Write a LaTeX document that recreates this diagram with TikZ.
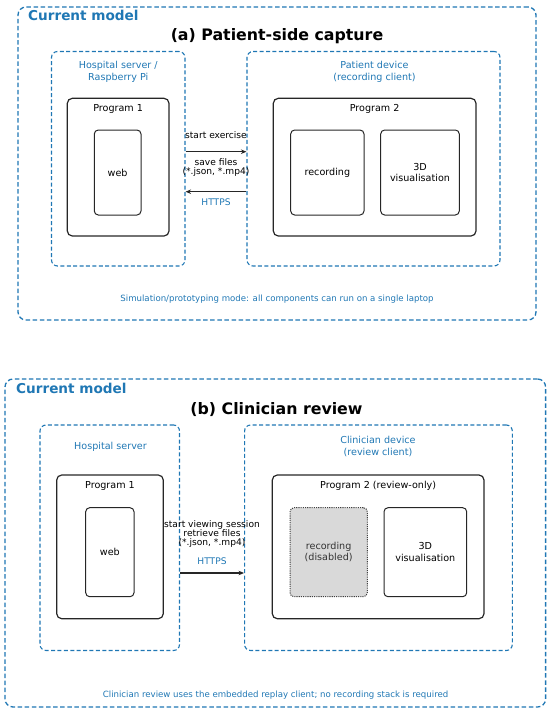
\documentclass[tikz,border=0pt]{standalone}
\usepackage{fontspec}
\setmainfont{DejaVu Sans}
\usetikzlibrary{arrows.meta}
\definecolor{mblue}{HTML}{1F77B4}
\tikzset{
  region/.style={draw=mblue, line width=1.3pt, dash pattern=on 4.5pt off 2.6pt, rounded corners=8pt, inner sep=0pt},
  hostbox/.style={draw=mblue, line width=1.1pt, dash pattern=on 4pt off 2.4pt, rounded corners=6pt, inner sep=0pt},
  progbox/.style={draw=black!85, line width=1.2pt, rounded corners=5pt, inner sep=0pt},
  compbox/.style={draw=black!85, line width=1pt, rounded corners=4pt, inner sep=0pt, align=center, font=\fontsize{9.6}{11.5}\selectfont},
  offbox/.style={draw=black!75, fill=black!15, line width=1pt, dash pattern=on 1.1pt off 1.1pt, rounded corners=4pt, inner sep=0pt, align=center, font=\fontsize{9.6}{11.5}\selectfont, text=black!80},
  modeltxt/.style={text=mblue, font=\fontsize{13.6}{16}\bfseries\selectfont, anchor=base west, inner sep=0pt},
  titletxt/.style={font=\fontsize{15.8}{18}\bfseries\selectfont, anchor=base, inner sep=0pt},
  hosttxt/.style={text=mblue, font=\fontsize{9.6}{11.8}\selectfont, align=center, inner sep=0pt},
  progtxt/.style={font=\fontsize{9.6}{11.5}\selectfont, inner sep=0pt},
  arrtxt/.style={font=\fontsize{9.1}{8.9}\selectfont, align=center, inner sep=0pt},
  httpstxt/.style={text=mblue, font=\fontsize{9.1}{10}\selectfont, inner sep=0pt},
  notetxt/.style={text=mblue, font=\fontsize{8.6}{10}\selectfont, inner sep=0pt},
  flow/.style={draw=black!85, line width=1.2pt, -{Stealth[length=5.5pt,width=4.5pt]}},
}
\begin{document}
\begin{tikzpicture}[x=1pt,y=-1pt]
\useasboundingbox (0,0) rectangle (550,710);

% ---------------- (a) ----------------
\node[region, minimum width=518pt, minimum height=313pt] (outA) at (277,163.5) {};
\node[modeltxt] (cmA) at (28,20) {Current model};
\node[titletxt] (tA) at (277,40) {(a) Patient-side capture};

\node[hostbox, minimum width=133.5pt, minimum height=214.5pt] (lhA) at (118.25,158.75) {};
\node[hostbox, minimum width=253pt, minimum height=214.5pt] (rhA) at (373.5,158.75) {};
\node[hosttxt] (lhAt) at (118.25,71.5) {Hospital server /\\Raspberry Pi};
\node[hosttxt] (rhAt) at (374.5,71.5) {Patient device\\(recording client)};

\node[progbox, minimum width=101.7pt, minimum height=137.7pt] (p1A) at (118.15,167.15) {};
\node[progtxt] (p1At) at (118.15,108.5) {Program 1};
\node[compbox, minimum width=46.7pt, minimum height=85pt] (webA) at (117.65,172.5) {web};

\node[progbox, minimum width=202.7pt, minimum height=137.7pt] (p2A) at (374.65,167.15) {};
\node[progtxt] (p2At) at (374.65,108.5) {Program 2};
\node[compbox, minimum width=73.3pt, minimum height=85pt] (recA) at (327.35,172.5) {recording};
\node[compbox, minimum width=78.6pt, minimum height=85pt] (visA) at (420,172.5) {3D\\visualisation};

\coordinate (a1) at (0,151.7);
\coordinate (a2) at (0,191.7);
\draw[flow] (lhA.east |- a1) -- (rhA.west |- a1);
\draw[flow] (rhA.west |- a2) -- (lhA.east |- a2);
\node[arrtxt] (l1A) at (216,135) {start exercise};
\node[arrtxt] (l2A) at (216,167.5) {save files\\(*.json, *.mp4)};
\node[httpstxt] (l3A) at (216,201.7) {HTTPS};

\node[notetxt] (nA) at (277,299) {Simulation/prototyping mode: all components can run on a single laptop};

% ---------------- (b) ----------------
\node[region, minimum width=540.6pt, minimum height=328pt] (outB) at (275.3,543) {};
\node[modeltxt] (cmB) at (16,393) {Current model};
\node[titletxt] (tB) at (276.5,414) {(b) Clinician review};

\node[hostbox, minimum width=139.5pt, minimum height=225.5pt] (lhB) at (109.75,537.75) {};
\node[hostbox, minimum width=267.7pt, minimum height=225.5pt] (rhB) at (378.45,537.75) {};
\node[hosttxt] (lhBt) at (110.5,446.5) {Hospital server};
\node[hosttxt] (rhBt) at (378,446.3) {Clinician device\\(review client)};

\node[progbox, minimum width=106.6pt, minimum height=143.7pt] (p1B) at (110,546.85) {};
\node[progtxt] (p1Bt) at (110,486.3) {Program 1};
\node[compbox, minimum width=48.3pt, minimum height=89pt] (webB) at (109.85,552.2) {web};

\node[progbox, minimum width=211.7pt, minimum height=143.7pt] (p2B) at (378.15,546.85) {};
\node[progtxt] (p2Bt) at (378.15,486.3) {Program 2 (review-only)};
\node[offbox, minimum width=77.3pt, minimum height=89pt] (recB) at (328.65,552.2) {recording\\(disabled)};
\node[compbox, minimum width=82.7pt, minimum height=89pt] (visB) at (425.35,552.2) {3D\\visualisation};

\coordinate (b1) at (0,573);
\draw[flow] (lhB.east |- b1) -- (rhB.west |- b1);
\node[arrtxt] (l1B) at (212,533.8) {start viewing session\\retrieve files\\(*.json, *.mp4)};
\node[httpstxt] (l2B) at (212,561) {HTTPS};

\node[notetxt] (nB) at (275.6,695.4) {Clinician review uses the embedded replay client; no recording stack is required};
\end{tikzpicture}
\end{document}
